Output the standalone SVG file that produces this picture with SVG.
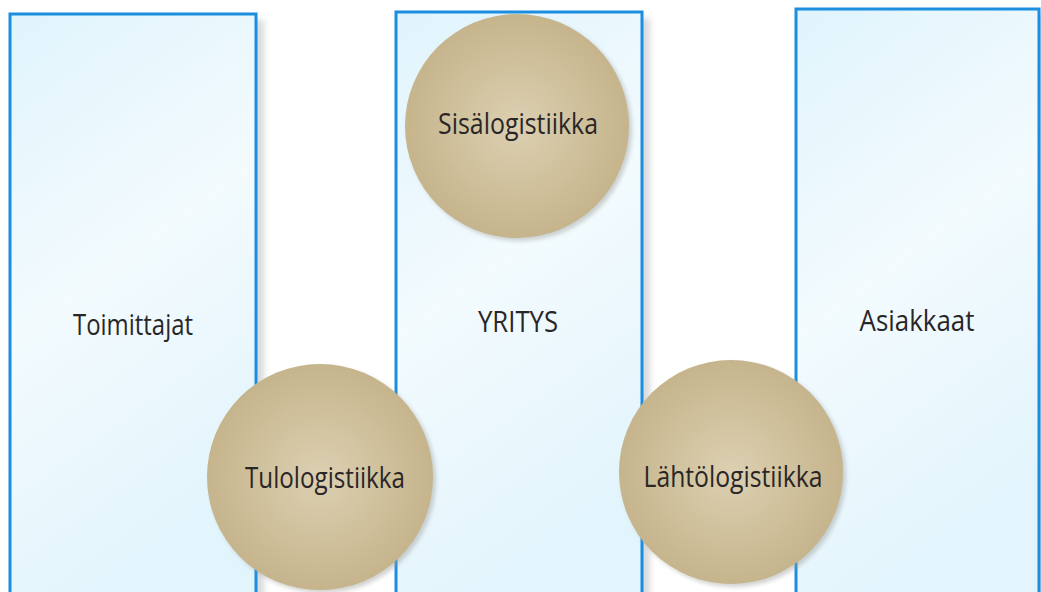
<svg xmlns="http://www.w3.org/2000/svg" width="1041" height="592" viewBox="0 0 1041 592">
  <defs>
    <linearGradient id="panelFill" x1="0" y1="0" x2="0.3" y2="1">
      <stop offset="0" stop-color="#e0f4fc"/>
      <stop offset="0.5" stop-color="#f3fbfe"/>
      <stop offset="1" stop-color="#e2f4fc"/>
    </linearGradient>
    <radialGradient id="discFill" cx="0.5" cy="0.5" r="0.5">
      <stop offset="0" stop-color="#dcd0b2"/>
      <stop offset="0.7" stop-color="#cdbd97"/>
      <stop offset="1" stop-color="#c5b48c"/>
    </radialGradient>
    <filter id="panelShadow" x="-10%" y="-10%" width="130%" height="130%">
      <feGaussianBlur stdDeviation="3"/>
    </filter>
    <filter id="discShadow" x="-10%" y="-10%" width="120%" height="120%">
      <feGaussianBlur stdDeviation="2"/>
    </filter>
  </defs>
  <style>
    .panel { fill: url(#panelFill); stroke: #1b8ee0; stroke-width: 3; }
    .shadow { fill: #b9bcbf; opacity: 0.55; filter: url(#panelShadow); }
    .disc { fill: url(#discFill); }
    .discShadow { fill: #9a9a96; opacity: 0.45; filter: url(#discShadow); }
    .label { font-family: "Open Sans", "Noto Sans", "Liberation Sans", sans-serif; font-size: 29px; fill: #2a2627; text-anchor: middle; }
  </style>
  <rect width="1041" height="592" fill="#ffffff"/>

  <!-- Suppliers panel -->
  <g id="toimittajat">
    <rect class="shadow" x="18" y="20" width="246" height="590"/>
    <rect class="panel" x="10" y="14" width="246" height="600"/>
    <text class="label" x="133" y="335" textLength="120" lengthAdjust="spacingAndGlyphs">Toimittajat</text>
  </g>

  <!-- Company panel -->
  <g id="yritys">
    <rect class="shadow" x="403" y="18" width="247" height="590"/>
    <rect class="panel" x="396" y="12" width="246" height="600"/>
    <text class="label" x="518" y="332" textLength="80" lengthAdjust="spacingAndGlyphs">YRITYS</text>
  </g>

  <!-- Customers panel -->
  <g id="asiakkaat">
    <rect class="shadow" x="803" y="15" width="246" height="590"/>
    <rect class="panel" x="796" y="9" width="243" height="600"/>
    <text class="label" x="917" y="331" textLength="115" lengthAdjust="spacingAndGlyphs">Asiakkaat</text>
  </g>

  <!-- Internal logistics -->
  <g id="sisalogistiikka">
    <circle class="discShadow" cx="520" cy="129" r="112"/>
    <circle class="disc" cx="517" cy="126" r="112"/>
    <text class="label" x="518" y="134" textLength="160" lengthAdjust="spacingAndGlyphs">Sisälogistiikka</text>
  </g>

  <!-- Inbound logistics -->
  <g id="tulologistiikka">
    <circle class="discShadow" cx="323" cy="480" r="113"/>
    <circle class="disc" cx="320" cy="477" r="113"/>
    <text class="label" x="325" y="488" textLength="160" lengthAdjust="spacingAndGlyphs">Tulologistiikka</text>
  </g>

  <!-- Outbound logistics -->
  <g id="lahtologistiikka">
    <circle class="discShadow" cx="734" cy="475" r="112"/>
    <circle class="disc" cx="731" cy="472" r="112"/>
    <text class="label" x="733" y="487" textLength="179" lengthAdjust="spacingAndGlyphs">Lähtölogistiikka</text>
  </g>

  <g id="connectors"/>
</svg>
